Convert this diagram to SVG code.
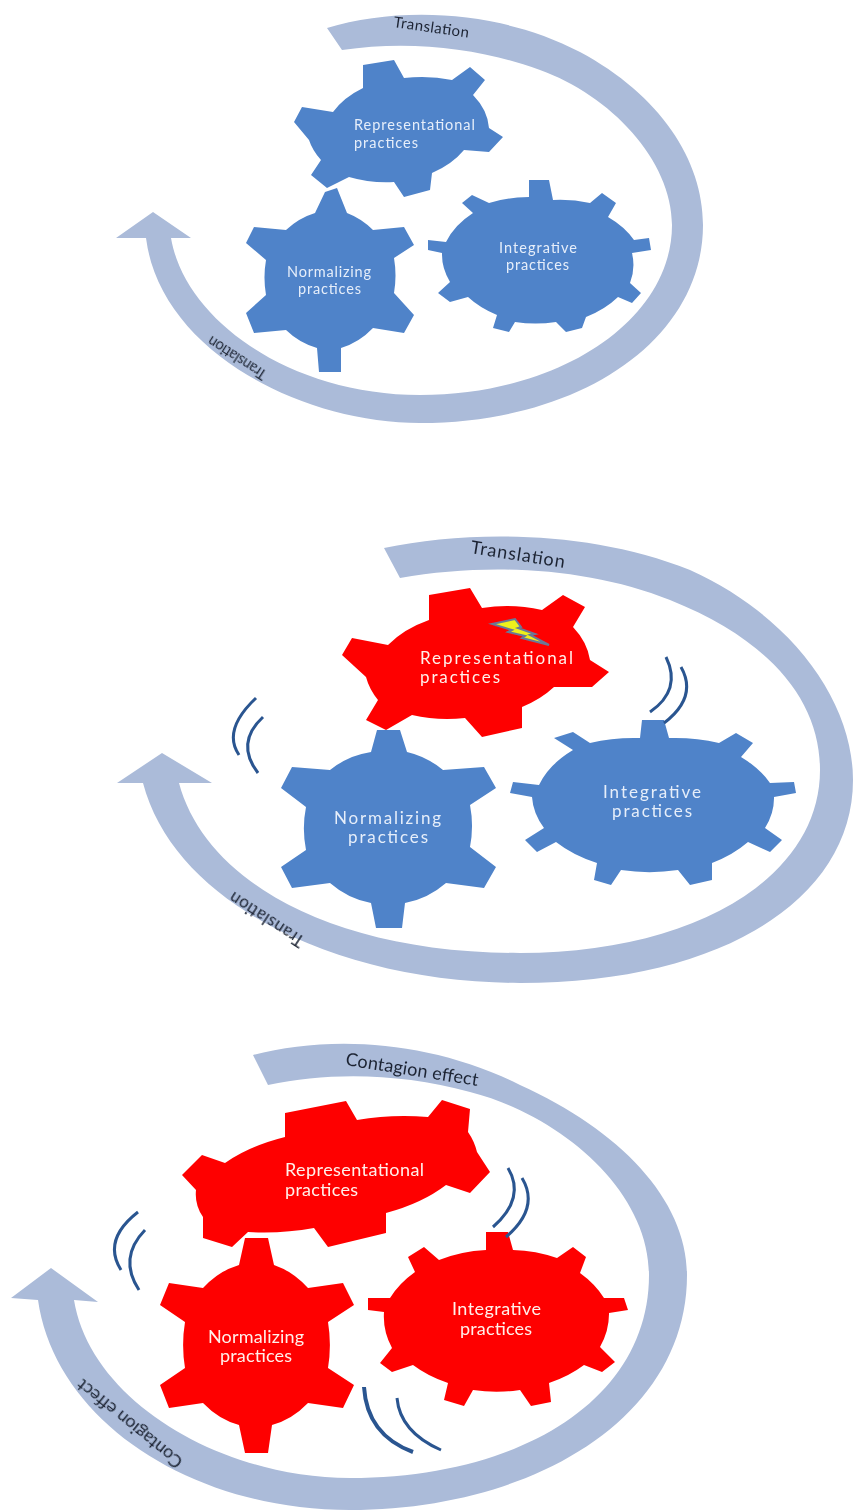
<svg xmlns="http://www.w3.org/2000/svg" width="853" height="1510" viewBox="0 0 853 1510">
<defs><filter id="soft" x="-5%" y="-5%" width="110%" height="110%"><feGaussianBlur stdDeviation="0.6"/></filter><filter id="soft2" x="-5%" y="-5%" width="110%" height="110%"><feGaussianBlur stdDeviation="0.35"/></filter></defs>
<style>
.arc{fill:#abbbd9}
.blue{fill:#4f83c9}
.red{fill:#fe0000}
.lbl{font-family:"Lato","Liberation Sans",sans-serif;fill:#e6eefa}
.wl{font-family:"Lato","Liberation Sans",sans-serif;fill:#fff0ea}
.cap{font-family:"Lato","Liberation Sans",sans-serif;fill:#1c2433}
.wave{fill:none;stroke:#2a5590;stroke-width:3}
</style>
<rect width="853" height="1510" fill="#fff"/>
<g id="connectors" filter="url(#soft2)">
<path class="arc" d="M327,28 C400,6 500,10 580,52 C660,95 703,160 703,225 C703,340 580,423 420,423 C300,423 160,350 146,238 L116,238 L153,212 L191,238 L171,238 C185,320 290,395 420,395 C560,395 672,320 672,225 C672,160 610,95 540,70 C480,48 410,40 342,50 Z"/>
<path class="arc" d="M384,548 C470,530 590,530 690,570 C790,615 853,700 853,780 C853,900 720,983 520,983 C340,983 175,905 143,783 L117,783 L162,753 L212,783 L179,783 C205,880 330,953 520,953 C690,953 820,880 820,770 C820,700 770,640 670,600 C590,568 490,562 400,578 Z"/>
<path class="arc" d="M253,1055 C330,1035 430,1040 520,1085 C620,1130 687,1200 687,1275 C687,1420 530,1510 350,1510 C190,1510 55,1420 38,1300 L11,1298 L51,1268 L98,1302 L74,1300 C90,1400 220,1478 350,1478 C520,1478 649,1400 649,1275 C649,1190 560,1115 470,1092 C400,1073 330,1072 268,1085 Z"/>
</g>
<g id="gear-representational-1" filter="url(#soft)"><path class="blue" d="M363,65 L394,60 404,78 A95,60 0 0 1 452,80 L470,67 485,80 473,95 A95,65 0 0 1 489,128 L503,137 489,152 464,150 A95,65 0 0 1 432,173 L430,190 404,197 394,182 A95,65 0 0 1 349,177 L327,188 311,175 321,160 A95,65 0 0 1 309,140 L294,122 302,107 333,112 A95,65 0 0 1 363,88 Z"/>
<text class="lbl" x="354" y="130" font-size="14.5" textLength="121">Representational</text><text class="lbl" x="354" y="148" font-size="14.5" textLength="64">practices</text></g>
<g id="gear-normalizing-1" filter="url(#soft)"><path class="blue" d="M325,192 L337,188 347,213 A75,80 0 0 1 373,230 L404,227 414,245 394,258 A70,85 0 0 1 394,293 L414,315 404,333 373,328 A75,80 0 0 1 341,348 L341,372 319,372 317,348 A75,80 0 0 1 286,330 L254,333 246,313 266,295 A70,85 0 0 1 266,260 L246,243 254,227 286,230 A75,80 0 0 1 315,213 Z"/>
<text class="lbl" x="287" y="277" font-size="14.5" textLength="84">Normalizing</text><text class="lbl" x="298" y="294" font-size="14.5" textLength="63">practices</text></g>
<g id="gear-integrative-1" filter="url(#soft)"><path class="blue" d="M529,180 L549,180 553,200 A100,70 0 0 1 590,203 L602,193 616,203 608,217 A100,70 0 0 1 634,240 L649,238 651,250 632,253 A100,70 0 0 1 630,283 L641,293 632,303 618,297 A100,70 0 0 1 586,317 L582,328 566,332 556,322 A100,70 0 0 1 515,322 L509,332 493,328 497,315 A100,70 0 0 1 468,297 L450,302 438,293 450,282 A100,70 0 0 1 442,253 L428,250 428,240 446,242 A100,70 0 0 1 473,213 L462,203 472,195 489,203 A100,70 0 0 1 529,197 Z"/>
<text class="lbl" x="499" y="253" font-size="14.5" textLength="78">Integrative</text><text class="lbl" x="506" y="270" font-size="14.5" textLength="63">practices</text></g>
<g id="labels-1" filter="url(#soft2)"><text class="cap" transform="translate(393,27) rotate(8)" font-size="15" textLength="76">Translation</text><text class="cap" transform="translate(268,372) rotate(213)" font-size="14.5" textLength="67">Translation</text></g>

<g id="gear-representational-2" filter="url(#soft)"><path class="red" d="M429,595 L470,588 482,608 A110,75 0 0 1 542,610 L563,595 585,607 573,627 A110,75 0 0 1 590,660 L609,672 592,687 554,687 A110,75 0 0 1 522,707 L522,728 482,737 465,718 A110,75 0 0 1 412,715 L386,730 366,720 378,700 A110,75 0 0 1 366,677 L342,655 352,638 388,645 A110,75 0 0 1 429,620 Z"/>
<polygon points="492,624 515,619 521,627 518,628 535,634 530,635 549,645 522,638 525,636 508,632 512,630" fill="#eef01c" stroke="#6a7896" stroke-width="2"/>
<text class="wl" x="420" y="664" font-size="17" textLength="153">Representational</text><text class="wl" x="420" y="683" font-size="17" textLength="80">practices</text></g>
<g id="gear-normalizing-2" filter="url(#soft)"><path class="blue" d="M377,730 L400,730 407,752 A90,100 0 0 1 443,770 L484,767 496,788 470,805 A90,100 0 0 1 470,847 L496,867 484,888 446,883 A90,100 0 0 1 405,903 L402,928 376,928 371,903 A90,100 0 0 1 330,883 L292,888 281,867 306,850 A90,100 0 0 1 306,807 L281,788 292,767 330,770 A90,100 0 0 1 371,752 Z"/>
<text class="lbl" x="334" y="824" font-size="17" textLength="107">Normalizing</text><text class="lbl" x="348" y="843" font-size="17" textLength="80">practices</text></g>
<g id="gear-integrative-2" filter="url(#soft)"><path class="blue" d="M642,720 L664,720 669,738 A125,80 0 0 1 719,743 L736,733 753,743 741,757 A125,80 0 0 1 770,783 L794,782 796,793 774,797 A125,80 0 0 1 765,828 L782,840 770,852 748,842 A125,80 0 0 1 712,863 L712,880 690,885 678,870 A125,80 0 0 1 621,870 L611,885 594,880 597,863 A125,80 0 0 1 556,842 L537,852 525,840 544,828 A125,80 0 0 1 532,797 L510,793 513,782 539,785 A125,80 0 0 1 573,750 L554,738 573,732 590,743 A125,80 0 0 1 640,738 Z"/>
<text class="lbl" x="603" y="798" font-size="17" textLength="98">Integrative</text><text class="lbl" x="612" y="817" font-size="17" textLength="80">practices</text></g>
<g id="labels-2" filter="url(#soft2)"><text class="cap" transform="translate(470,553) rotate(9)" font-size="18" textLength="95">Translation</text><text class="cap" transform="translate(306,938) rotate(213)" font-size="17" textLength="86">Translation</text></g>
<g id="waves-2" filter="url(#soft2)"><path class="wave" d="M256,698 Q222,730 239,755"/><path class="wave" d="M263,717 Q235,743 258,773"/><path class="wave" d="M666,657 Q682,690 650,712"/><path class="wave" d="M681,667 Q698,697 664,723"/></g>

<g id="gear-representational-3" filter="url(#soft2)"><path class="red" d="M285,1113 L346,1101 357,1120 A160,90 0 0 1 428,1117 L442,1100 470,1109 468,1132 A60,60 0 0 1 477,1152 L490,1172 470,1193 446,1185 A160,90 0 0 1 386,1213 L386,1233 328,1247 314,1228 A160,90 0 0 1 248,1232 L232,1247 203,1238 203,1217 A40,40 0 0 1 196,1190 L182,1175 202,1155 225,1163 A160,90 0 0 1 285,1137 Z"/>
<text class="wl" x="285" y="1176" font-size="18" textLength="139">Representational</text><text class="wl" x="285" y="1196" font-size="18" textLength="73">practices</text></g>
<g id="gear-normalizing-3" filter="url(#soft2)"><path class="red" d="M245,1238 L268,1238 274,1265 A85,110 0 0 1 308,1288 L343,1283 354,1305 328,1322 A85,110 0 0 1 328,1368 L354,1385 343,1408 308,1403 A85,110 0 0 1 272,1425 L268,1453 245,1453 239,1425 A85,110 0 0 1 203,1403 L169,1408 160,1385 185,1368 A85,110 0 0 1 185,1322 L160,1305 169,1283 203,1288 A85,110 0 0 1 239,1265 Z"/>
<text class="wl" x="208" y="1343" font-size="18" textLength="96">Normalizing</text><text class="wl" x="220" y="1362" font-size="18" textLength="72">practices</text></g>
<g id="gear-integrative-3" filter="url(#soft2)"><path class="red" d="M486,1232 L508,1232 513,1250 A115,85 0 0 1 557,1258 L573,1247 586,1257 580,1273 A115,85 0 0 1 604,1298 L624,1298 628,1310 609,1313 A115,85 0 0 1 600,1347 L615,1362 602,1372 584,1365 A115,85 0 0 1 549,1383 L551,1402 531,1406 520,1390 A115,85 0 0 1 473,1390 L464,1406 444,1400 448,1383 A115,85 0 0 1 413,1365 L392,1372 380,1363 392,1348 A115,85 0 0 1 384,1312 L368,1310 368,1298 390,1298 A115,85 0 0 1 415,1272 L408,1257 424,1247 439,1260 A115,85 0 0 1 486,1250 Z"/>
<text class="wl" x="452" y="1315" font-size="18" textLength="89">Integrative</text><text class="wl" x="460" y="1335" font-size="18" textLength="72">practices</text></g>
<g id="labels-3" filter="url(#soft2)"><text class="cap" transform="translate(345,1065) rotate(9)" font-size="18" textLength="134">Contagion effect</text><text class="cap" transform="translate(184,1460) rotate(219)" font-size="18" textLength="130">Contagion effect</text></g>
<g id="waves-3" filter="url(#soft2)"><path class="wave" d="M138,1212 Q102,1240 121,1270"/><path class="wave" d="M145,1230 Q118,1258 139,1290"/><path class="wave" d="M508,1168 Q526,1198 493,1227"/><path class="wave" d="M522,1178 Q540,1208 506,1237"/><path class="wave" style="stroke-width:4" d="M364,1387 Q367,1435 413,1452"/><path class="wave" d="M397,1398 Q400,1432 441,1450"/></g>
</svg>
